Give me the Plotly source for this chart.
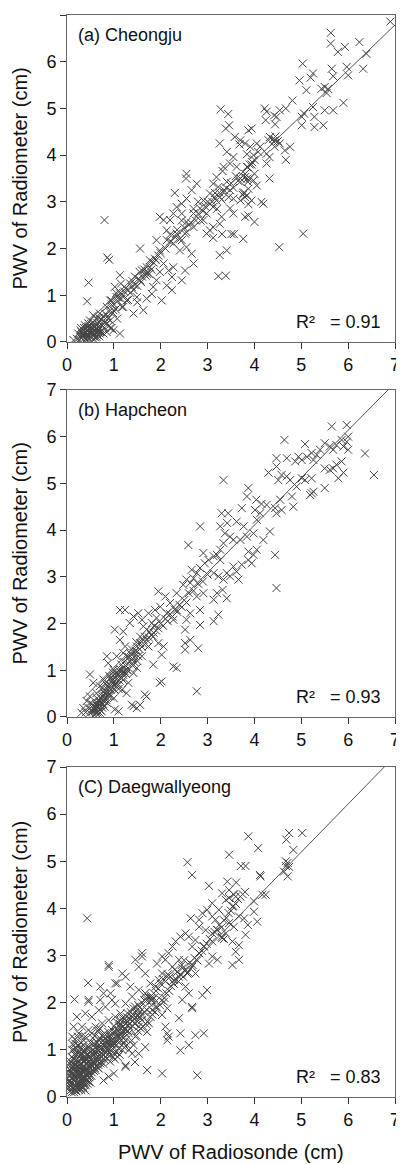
import plotly.graph_objects as go
from plotly.subplots import make_subplots

# (radiosonde PWV, radiometer PWV) pairs
cheongju = [
    (6.9, 6.86), (5.63, 6.62), (5.63, 6.39), (5.93, 6.32), (5.78, 6.21), (6.24, 6.42), (6.39, 6.17),
    (6.32, 5.85), (5.97, 5.89), (6.0, 5.71), (5.65, 5.85), (5.68, 5.69), (5.03, 5.96), (4.96, 5.6),
    (5.11, 5.39), (5.25, 5.75), (5.2, 5.66), (5.43, 5.42), (5.5, 5.46), (5.57, 5.42), (5.54, 5.33),
    (5.9, 5.12), (5.5, 4.96), (5.68, 4.96), (5.28, 4.82), (5.25, 5.03), (5.47, 4.64), (5.28, 4.6),
    (5.01, 4.82), (5.01, 4.64), (5.06, 4.89), (4.81, 5.17), (4.67, 5.0), (4.54, 4.96), (4.42, 4.85),
    (4.47, 4.82), (4.22, 5.0), (4.24, 4.75), (4.26, 4.93), (4.44, 4.66), (4.33, 4.39), (4.44, 4.32),
    (4.54, 4.25), (4.76, 4.18), (4.65, 4.10), (4.67, 3.9), (4.3, 4.32), (4.43, 4.18), (4.32, 3.96),
    (4.26, 3.82), (4.32, 3.5), (4.12, 4.18), (4.05, 4.25), (3.91, 4.18), (4.08, 4.07), (3.98, 4.0),
    (4.26, 4.03), (3.87, 4.53), (3.94, 4.57), (3.7, 4.32), (3.8, 4.25), (3.84, 4.02), (3.68, 4.23),
    (3.44, 4.88), (3.46, 4.64), (3.28, 4.98), (3.39, 4.57), (3.58, 4.39), (3.26, 4.25), (3.41, 4.07),
    (3.48, 3.82), (3.55, 3.96), (3.62, 3.75), (3.84, 3.75), (3.94, 3.8), (4.0, 3.6), (3.8, 3.53),
    (3.86, 3.43), (3.7, 3.43), (3.98, 3.46), (4.05, 3.35), (3.87, 3.28), (3.77, 3.18), (3.84, 3.14),
    (3.7, 3.03), (3.94, 3.03), (3.87, 2.95), (4.19, 2.96), (4.15, 3.0), (3.87, 2.71), (4.0, 2.57),
    (3.8, 2.68), (3.55, 3.07), (3.41, 3.43), (3.34, 3.75), (3.32, 3.66), (3.19, 3.53), (3.12, 3.39),
    (3.23, 3.32), (3.34, 3.21), (3.48, 3.25), (3.26, 3.1), (3.19, 3.03), (3.05, 2.96), (3.12, 2.89),
    (2.98, 2.75), (3.05, 3.18), (3.16, 3.19), (3.55, 2.75), (3.48, 2.86), (3.3, 2.68), (3.26, 2.53),
    (3.12, 2.46), (2.91, 3.03), (2.8, 3.0), (2.84, 2.86), (2.7, 2.75), (2.91, 2.61), (2.98, 2.32),
    (3.12, 2.23), (3.05, 2.39), (3.31, 2.31), (3.51, 2.31), (3.56, 2.31), (3.76, 2.21), (3.26, 1.86),
    (3.41, 1.96), (3.23, 1.41), (3.39, 1.42), (5.04, 2.32), (4.53, 2.03), (2.55, 3.07), (2.55, 3.6),
    (2.54, 3.5), (2.77, 3.39), (2.66, 3.25), (2.3, 3.19), (2.45, 2.96), (2.34, 2.89), (2.7, 2.46),
    (2.55, 2.57), (2.45, 2.75), (2.27, 2.75), (2.2, 2.61), (2.13, 2.39), (2.06, 2.61), (1.98, 2.68),
    (2.34, 2.32), (2.45, 2.18), (2.52, 2.32), (2.27, 2.11), (2.41, 1.96), (2.55, 2.03), (2.66, 1.89),
    (2.7, 1.68), (2.52, 1.53), (2.45, 1.32), (2.13, 2.18), (1.91, 2.18), (1.98, 1.96), (1.88, 1.78),
    (2.06, 1.68), (2.17, 1.53), (2.27, 1.6), (2.24, 1.39), (1.98, 1.5), (1.91, 1.32), (1.77, 1.6),
    (1.7, 1.46), (1.6, 1.53), (1.56, 1.32), (1.56, 2.0), (1.77, 1.75), (1.84, 1.18), (1.81, 1.03),
    (1.7, 0.93), (1.63, 0.68), (2.02, 0.89), (2.24, 1.11), (2.13, 1.21), (1.42, 1.11), (1.35, 1.25),
    (1.49, 0.96), (1.27, 0.89), (1.42, 0.61), (1.17, 0.75), (1.13, 1.04), (1.13, 1.43), (1.02, 1.18),
    (1.06, 0.96), (0.95, 0.89), (0.85, 0.75), (0.99, 0.68), (0.92, 0.46), (0.78, 0.54), (0.7, 0.46),
    (0.63, 0.36), (0.7, 0.61), (0.86, 1.81), (0.9, 1.76), (0.8, 2.61), (0.46, 1.27), (0.43, 0.87),
    (0.92, 0.89), (1.07, 0.5), (1.13, 0.18), (0.99, 0.25), (0.85, 0.21), (0.7, 0.18), (0.67, 0.25),
    (0.56, 0.29), (0.53, 0.18), (0.42, 0.25), (0.35, 0.14), (0.28, 0.11), (0.21, 0.07), (0.31, 0.21),
    (0.38, 0.36), (0.49, 0.46), (0.56, 0.57), (0.38, 0.09), (0.46, 0.07), (0.63, 0.11), (0.78, 0.18),
    (0.92, 0.29), (0.24, 0.18), (0.14, 0.04),
    (0.4, 0.2), (0.45, 0.15), (0.5, 0.3), (0.55, 0.2), (0.6, 0.25), (0.65, 0.15), (0.4, 0.3),
    (0.35, 0.25), (0.5, 0.1), (0.6, 0.1), (0.7, 0.3), (0.75, 0.35), (0.8, 0.3), (0.85, 0.4),
    (0.9, 0.35), (0.95, 0.3), (0.45, 0.4), (0.55, 0.35), (0.65, 0.4), (0.4, 0.05), (0.3, 0.3),
    (0.62, 0.22), (0.48, 0.22), (0.58, 0.05),
    (1.0, 0.8), (1.1, 0.95), (1.2, 1.0), (1.25, 1.15), (1.3, 0.9), (1.4, 1.3), (1.45, 1.4), (1.5, 1.2),
    (1.55, 1.5), (1.6, 1.4), (1.65, 1.55), (1.7, 1.6), (1.75, 1.45), (1.8, 1.55), (1.85, 1.7),
    (1.9, 1.75), (1.95, 1.85), (2.0, 1.9), (1.05, 1.05), (0.95, 0.8), (0.9, 0.65), (1.15, 1.25),
    (1.2, 0.75), (1.35, 1.05), (1.5, 0.85),
    (2.1, 2.0), (2.2, 2.15), (2.3, 2.25), (2.35, 2.4), (2.4, 2.2), (2.5, 2.45), (2.6, 2.5), (2.65, 2.55),
    (2.75, 2.6), (2.8, 2.75), (2.85, 2.6), (2.9, 2.8), (2.95, 2.9), (3.0, 3.0), (2.2, 2.3), (2.45, 2.6),
    (2.55, 2.35), (2.7, 2.85),
    (3.1, 3.0), (3.15, 3.1), (3.2, 2.85), (3.25, 3.2), (3.3, 3.05), (3.35, 3.25), (3.4, 3.3), (3.45, 3.1),
    (3.5, 3.4), (3.55, 3.3), (3.6, 3.55), (3.65, 3.45), (3.7, 3.5), (3.75, 3.55), (3.8, 3.6), (3.85, 3.75),
    (3.9, 3.8), (3.95, 3.85), (4.0, 3.9), (3.75, 3.15), (3.8, 3.1), (3.78, 3.2), (3.85, 3.5), (3.9, 3.5),
    (4.4, 4.35), (4.45, 4.4), (4.5, 4.3), (4.42, 4.28),
    (0.33, 0.12), (0.37, 0.18), (0.43, 0.12), (0.47, 0.28), (0.52, 0.24), (0.57, 0.12), (0.6, 0.32),
    (0.64, 0.2), (0.67, 0.32), (0.72, 0.22), (0.44, 0.32), (0.52, 0.38), (0.36, 0.3), (0.41, 0.16),
    (0.26, 0.05), (0.31, 0.08), (0.55, 0.42), (0.62, 0.5), (0.68, 0.52), (0.74, 0.48), (0.82, 0.6),
    (0.87, 0.55), (0.98, 0.62), (1.04, 0.7), (1.08, 0.88), (1.16, 0.92), (1.22, 1.08), (1.3, 1.12),
    (1.38, 1.18), (1.44, 1.22), (1.52, 1.35), (1.58, 1.28), (1.68, 1.42), (1.72, 1.5),
    (0.39, 0.22), (0.42, 0.08), (0.5, 0.18), (0.54, 0.3), (0.58, 0.16), (0.61, 0.28), (0.66, 0.24),
    (0.69, 0.12), (0.73, 0.38), (0.46, 0.34), (0.34, 0.18), (0.29, 0.25), (0.81, 0.42), (0.88, 0.5),
]

hapcheon = [
    (5.65, 6.22), (5.97, 6.25), (5.08, 5.84), (4.64, 5.93), (6.36, 5.64), (6.55, 5.18), (6.0, 6.0),
    (5.97, 5.89), (5.86, 5.93), (5.9, 5.79), (6.0, 5.72), (5.75, 5.82), (5.68, 5.72), (5.61, 5.79),
    (5.5, 5.86), (5.4, 5.72), (5.33, 5.61), (5.26, 5.5), (5.22, 5.65), (5.12, 5.57), (5.01, 5.5),
    (4.94, 5.57), (4.87, 5.47), (4.69, 5.54), (4.47, 5.54), (4.47, 5.36), (4.58, 5.18), (4.69, 5.15),
    (4.76, 5.07), (4.51, 5.07), (4.3, 5.23), (5.01, 5.11), (5.08, 5.07), (5.22, 5.11), (5.5, 5.32),
    (5.61, 5.29), (5.75, 5.4), (5.86, 5.47), (5.9, 5.23), (5.79, 5.11), (5.68, 5.32), (5.5, 4.9),
    (5.22, 4.79), (5.19, 4.75), (5.26, 4.82), (4.9, 4.93), (4.8, 4.72), (4.83, 4.5), (4.55, 4.65),
    (4.58, 4.43), (4.44, 4.47), (4.47, 4.36), (4.33, 3.97), (4.44, 3.47), (4.47, 2.76), (4.04, 4.65),
    (4.15, 4.56), (4.26, 4.54), (3.87, 4.9), (3.84, 4.72), (3.73, 4.47), (4.01, 4.43), (4.05, 4.22),
    (4.12, 4.36), (4.19, 3.79), (3.98, 3.93), (3.84, 3.86), (3.7, 3.79), (3.55, 3.79), (3.62, 4.18),
    (3.77, 4.08), (3.34, 5.07), (3.44, 4.36), (3.3, 4.36), (3.42, 4.15), (3.27, 4.08), (2.84, 4.08),
    (2.59, 3.68), (3.37, 3.93), (3.48, 3.86), (3.34, 3.72), (3.27, 3.58), (3.2, 3.47), (3.27, 3.36),
    (3.13, 3.44), (3.02, 3.36), (2.91, 3.51), (2.94, 3.29), (2.84, 3.19), (2.77, 3.08), (2.66, 3.15),
    (2.7, 2.97), (2.63, 2.87), (2.55, 2.94), (2.48, 2.83), (3.13, 3.08), (3.23, 3.01), (3.34, 2.94),
    (3.41, 3.08), (3.48, 3.01), (3.55, 3.22), (3.62, 3.11), (3.73, 3.26), (3.87, 3.36), (3.98, 3.47),
    (4.05, 3.58), (3.87, 3.54), (3.94, 3.29), (3.66, 2.94), (3.41, 2.54), (3.32, 2.72), (3.2, 2.65),
    (3.13, 2.51), (3.23, 2.19), (3.13, 2.05), (2.91, 2.65), (2.77, 2.58), (2.84, 2.29), (2.84, 1.97),
    (2.63, 2.22), (2.55, 2.08), (2.52, 1.87), (2.63, 1.65), (2.52, 1.58), (2.52, 1.44), (2.8, 1.47),
    (2.27, 1.08), (2.34, 1.05), (2.77, 0.55), (2.02, 0.76), (1.98, 0.73), (2.34, 2.65), (2.34, 2.29),
    (2.2, 2.44), (2.13, 2.22), (2.27, 2.08), (1.95, 2.69), (2.1, 2.58), (1.99, 2.36), (1.88, 2.29),
    (1.91, 2.12), (1.81, 2.01), (1.74, 2.22), (1.7, 1.87), (1.84, 1.72), (1.95, 1.58), (2.06, 1.51),
    (2.02, 1.33), (1.84, 1.12), (1.74, 1.51), (1.63, 1.65), (1.63, 1.94), (1.56, 1.72), (1.49, 1.51),
    (1.42, 1.37), (1.52, 1.3), (1.49, 1.05), (1.42, 0.94), (1.27, 1.01), (1.34, 1.19), (1.2, 1.37),
    (1.13, 2.29), (1.24, 2.29), (1.02, 1.87), (1.2, 1.83), (1.34, 2.01), (1.52, 2.22), (1.6, 2.08),
    (1.42, 2.15), (1.13, 1.65), (1.24, 1.51), (1.06, 1.3), (0.85, 1.3), (0.88, 1.15), (0.99, 1.01),
    (1.1, 0.94), (0.92, 0.83), (0.78, 0.8), (0.7, 0.66), (0.63, 0.51), (0.49, 0.91), (0.56, 0.73),
    (0.49, 0.44), (0.42, 0.34), (0.35, 0.19), (0.31, 0.09), (0.49, 0.09), (0.6, 0.12), (0.7, 0.09),
    (0.67, 0.23), (0.56, 0.26), (0.78, 0.34), (0.92, 0.44), (1.02, 0.16), (1.1, 0.12), (1.02, 0.58),
    (1.17, 0.58), (1.27, 0.51), (1.38, 0.26), (1.49, 0.19), (1.66, 0.48), (1.7, 0.44), (1.42, 0.23),
    (1.56, 0.26), (1.2, 0.79), (1.31, 0.73),
    (0.6, 0.2), (0.65, 0.3), (0.7, 0.35), (0.75, 0.45), (0.8, 0.5), (0.85, 0.6), (0.9, 0.7), (0.95, 0.65),
    (1.0, 0.75), (1.05, 0.8), (1.1, 0.7), (1.0, 0.6), (0.9, 0.5), (0.8, 0.4), (0.7, 0.25), (0.6, 0.15),
    (0.55, 0.25), (0.65, 0.1), (0.75, 0.2), (0.85, 0.3), (0.62, 0.28), (0.68, 0.18), (0.72, 0.4),
    (0.78, 0.55), (0.88, 0.45), (0.95, 0.85), (1.05, 0.95), (1.1, 1.0), (1.15, 0.85), (1.2, 1.05),
    (1.25, 1.1), (1.3, 1.15), (1.35, 1.2), (1.4, 1.25), (1.45, 1.3), (1.5, 1.4), (1.55, 1.45),
    (1.6, 1.5), (1.65, 1.55), (1.7, 1.65), (1.75, 1.7), (1.8, 1.75), (1.85, 1.8), (1.9, 1.85),
    (1.95, 1.9), (2.0, 2.0), (2.05, 1.95), (2.1, 2.1), (2.15, 2.05), (2.2, 2.2), (2.25, 2.15),
    (2.3, 2.3), (2.35, 2.25), (2.4, 2.4), (2.45, 2.35), (2.5, 2.5), (2.55, 2.45), (2.6, 2.65),
    (2.7, 2.7), (2.8, 2.85), (2.9, 2.9), (3.0, 3.05), (1.3, 1.0), (1.4, 1.1), (1.5, 1.2), (1.6, 1.3),
    (1.2, 0.9), (1.1, 0.6), (1.0, 0.4), (0.58, 0.05), (0.52, 0.15), (0.45, 0.2), (0.4, 0.1),
    (0.55, 0.12), (0.62, 0.08), (0.66, 0.22), (0.72, 0.3), (0.74, 0.12), (0.8, 0.22), (0.83, 0.42),
    (0.87, 0.52), (0.93, 0.58), (0.97, 0.72), (1.03, 0.68), (1.07, 0.88), (1.12, 0.78), (1.18, 0.95),
    (1.23, 0.98), (0.64, 0.4), (0.76, 0.62), (0.82, 0.72), (0.9, 0.88), (0.98, 0.95), (0.5, 0.3),
    (1.28, 1.3), (1.36, 1.35), (1.46, 1.42), (1.56, 1.58), (1.66, 1.72), (1.76, 1.82), (1.86, 1.95),
    (0.57, 0.18), (0.63, 0.24), (0.69, 0.32), (0.71, 0.15), (0.77, 0.28), (0.79, 0.46), (0.84, 0.36),
    (0.86, 0.66), (0.91, 0.62), (0.94, 0.78), (0.99, 0.88), (1.04, 0.72), (1.08, 0.9), (1.14, 1.02),
    (1.16, 1.12), (1.22, 1.18), (1.26, 0.92), (1.33, 1.28), (1.38, 1.45), (1.43, 1.18), (1.48, 1.6),
]

daegwallyeong = [
    (4.74, 5.6), (5.02, 5.6), (4.68, 5.46), (3.87, 5.53), (4.08, 5.28), (3.46, 5.14), (2.57, 4.98),
    (2.67, 4.71), (3.03, 4.48), (3.42, 4.57), (3.61, 4.55), (3.71, 4.9), (3.81, 4.9), (4.13, 4.68),
    (4.12, 4.71), (4.67, 5.0), (4.71, 4.97), (4.67, 4.9), (4.71, 4.68), (4.63, 4.78), (4.74, 4.88),
    (4.83, 5.24), (4.17, 4.29), (4.24, 4.29), (3.99, 4.15), (3.99, 3.93), (4.06, 3.72), (3.86, 3.65),
    (3.81, 3.44), (3.67, 3.22), (3.67, 2.91), (3.53, 3.3), (3.6, 3.08), (3.46, 4.22), (3.53, 4.04),
    (3.56, 4.29), (3.46, 4.39), (3.31, 4.32), (3.39, 4.18), (3.1, 4.11), (3.24, 3.97), (3.17, 3.76),
    (3.1, 3.83), (2.99, 3.97), (2.89, 3.9), (2.82, 3.76), (2.64, 3.79), (2.82, 3.61), (2.96, 3.54),
    (3.1, 3.47), (3.21, 3.54), (3.31, 3.37), (3.39, 3.47), (3.46, 3.69), (3.56, 3.61), (3.67, 3.83),
    (3.78, 3.79), (3.53, 2.8), (3.21, 2.91), (3.1, 2.98), (3.03, 2.83), (2.92, 3.19), (2.82, 3.05),
    (2.74, 3.33), (2.67, 3.19), (2.6, 3.4), (2.53, 3.47), (2.42, 3.4), (2.32, 3.3), (2.25, 3.19),
    (2.17, 3.05), (2.1, 2.91), (2.03, 2.98), (1.92, 2.83), (2.25, 2.76), (2.39, 2.91), (2.46, 2.73),
    (2.57, 2.62), (2.67, 2.76), (2.74, 2.62), (2.39, 2.55), (2.28, 2.48), (2.14, 2.55), (2.03, 2.62),
    (1.96, 2.48), (1.89, 2.34), (1.85, 2.2), (2.53, 2.34), (2.6, 2.2), (2.67, 1.91), (2.67, 1.88),
    (2.89, 2.16), (2.99, 2.27), (2.46, 2.06), (2.07, 2.02), (2.14, 1.88), (2.03, 1.74), (2.14, 1.35),
    (2.1, 1.49), (2.14, 1.2), (2.17, 1.28), (2.39, 1.67), (2.42, 1.35), (2.42, 0.99), (2.6, 1.1),
    (2.74, 1.31), (2.92, 1.35), (2.78, 0.46), (2.03, 0.5), (1.71, 0.57), (1.67, 1.06), (1.71, 1.38),
    (1.53, 0.92), (1.39, 0.92), (1.25, 0.67), (1.25, 0.64), (1.45, 0.74), (1.0, 0.5), (0.89, 0.43),
    (0.78, 0.35), (0.43, 3.79), (0.45, 2.42), (0.46, 2.02), (0.46, 2.06), (0.16, 2.07), (0.89, 2.8),
    (0.89, 2.76), (0.71, 2.06), (0.71, 2.34), (0.78, 2.2), (0.93, 2.2), (1.03, 2.41), (1.07, 2.41),
    (0.96, 2.06), (1.18, 2.62), (1.25, 2.55), (1.35, 2.34), (1.46, 2.91), (1.6, 2.98), (1.6, 3.05),
    (1.53, 2.76), (1.67, 2.62), (1.78, 2.41), (1.78, 2.13), (1.82, 2.06), (1.67, 2.2), (1.53, 2.27),
    (1.39, 2.13), (1.25, 1.98), (1.14, 1.77), (1.03, 1.7), (0.89, 1.63), (0.75, 1.56), (0.61, 1.49),
    (0.46, 1.42), (0.32, 1.49), (0.25, 1.35), (0.14, 1.49), (0.11, 1.28), (0.21, 1.7), (0.39, 1.77),
    (0.53, 1.7), (0.68, 1.84), (0.82, 1.91), (1.03, 1.98), (1.39, 1.7), (1.53, 1.77), (1.6, 1.63),
    (1.53, 1.49), (1.75, 1.56), (1.82, 1.84), (1.89, 1.91), (1.32, 1.35), (1.25, 1.2), (1.1, 1.28),
    (0.96, 1.13), (0.82, 1.06), (0.68, 0.99), (0.53, 0.92), (0.39, 0.85), (0.25, 0.78), (0.14, 0.64),
    (0.07, 0.5), (0.05, 0.35), (0.18, 0.25), (0.29, 0.18), (0.39, 0.14), (0.25, 0.35), (0.36, 0.43),
    (0.46, 0.5), (0.61, 0.57), (0.71, 0.71), (0.86, 0.82), (1.0, 0.92), (1.1, 1.03), (1.21, 1.13),
    (1.35, 1.17), (1.46, 1.28), (0.14, 0.35), (0.11, 0.21), (0.32, 0.57), (0.46, 0.74), (0.57, 0.74),
    (0.25, 0.92), (0.36, 0.99), (0.46, 1.06), (0.57, 1.13), (0.68, 1.2), (0.78, 1.28), (0.18, 1.13),
    (0.11, 0.99), (0.53, 1.35), (0.68, 1.42), (0.39, 1.28),
    (0.2, 0.5), (0.25, 0.55), (0.3, 0.6), (0.35, 0.65), (0.4, 0.7), (0.2, 0.3), (0.3, 0.4), (0.15, 0.45),
    (0.25, 0.25), (0.35, 0.3), (0.4, 0.5), (0.45, 0.55), (0.5, 0.6), (0.55, 0.65), (0.6, 0.8),
    (0.65, 0.85), (0.7, 0.9), (0.75, 1.0), (0.8, 0.95), (0.85, 1.05), (0.9, 1.1), (0.95, 1.2),
    (1.0, 1.25), (1.05, 1.3), (1.1, 1.4), (1.15, 1.45), (1.2, 1.5), (1.25, 1.55), (1.3, 1.6),
    (1.35, 1.65), (1.4, 1.75), (1.45, 1.8), (1.5, 1.85), (1.55, 1.9), (1.6, 2.0), (1.65, 2.05),
    (1.7, 2.1), (1.75, 2.0), (1.8, 2.15), (1.85, 2.1), (1.9, 2.25), (1.95, 2.3), (2.0, 2.4),
    (2.05, 2.5), (2.1, 2.45), (2.15, 2.6), (2.2, 2.55), (2.3, 2.7), (2.35, 2.65), (2.45, 2.8),
    (2.5, 2.9), (0.1, 0.6), (0.15, 0.8), (0.2, 0.9), (0.3, 1.0), (0.35, 1.1), (0.45, 0.9),
    (0.5, 0.85), (0.55, 1.0), (0.6, 1.05), (0.65, 1.15), (0.7, 1.25), (0.75, 1.3), (0.8, 1.35),
    (0.85, 1.2), (0.9, 1.3), (0.95, 1.0), (1.0, 1.05), (1.05, 0.95), (1.1, 1.15), (1.15, 1.2),
    (1.2, 1.25), (1.25, 1.35), (1.3, 1.4), (1.35, 1.45), (1.4, 1.5), (1.45, 1.55), (1.5, 1.6),
    (1.55, 1.7), (1.6, 1.75), (1.65, 1.8), (1.7, 1.85), (1.75, 2.1), (1.8, 2.05),
    (0.1, 0.2), (0.12, 0.4), (0.18, 0.15), (0.22, 0.65), (0.28, 0.45), (0.32, 0.8), (0.38, 0.55),
    (0.42, 0.35), (0.48, 0.75), (0.52, 0.45), (0.58, 0.55), (0.62, 0.65), (0.68, 0.6), (0.72, 0.75),
    (0.78, 0.7), (0.82, 0.85), (0.88, 0.9), (0.92, 0.75), (0.98, 0.85), (1.02, 0.8), (1.08, 0.85),
    (1.12, 0.9), (1.18, 1.0), (1.22, 1.05), (1.28, 1.1), (1.32, 1.0), (1.38, 1.2), (1.42, 1.1),
    (1.48, 1.3), (1.52, 1.4), (1.58, 1.45), (1.62, 1.5), (1.68, 1.55), (1.72, 1.6), (1.78, 1.7),
    (1.82, 1.75), (1.88, 1.8), (1.92, 1.9), (1.98, 1.95), (2.02, 2.05), (2.08, 2.1), (2.12, 2.2),
    (2.18, 2.25), (2.22, 2.35), (2.28, 2.4), (2.32, 2.5), (2.38, 2.45), (2.42, 2.6), (2.48, 2.55),
    (2.52, 2.7), (2.58, 2.65), (2.62, 2.85), (2.68, 2.8), (2.72, 2.95), (2.78, 2.9), (2.82, 3.05),
    (2.88, 3.1), (2.92, 3.2), (2.98, 3.25), (3.05, 3.35), (3.1, 3.3), (3.15, 3.5), (3.2, 3.55),
    (3.25, 3.65), (3.3, 3.6), (3.35, 3.75), (3.4, 3.8), (3.45, 3.9), (3.5, 3.95), (3.55, 4.05),
    (3.6, 4.1), (3.65, 4.2), (3.7, 4.25), (3.75, 4.3), (3.8, 4.35), (3.55, 4.3), (3.6, 4.25),
    (3.35, 3.35), (3.3, 3.4), (1.7, 2.05), (1.75, 2.1), (1.8, 2.1),
    (0.05, 0.2), (0.08, 0.3), (0.1, 0.4), (0.12, 0.5), (0.15, 0.25), (0.18, 0.35), (0.2, 0.45),
    (0.22, 0.2), (0.25, 0.4), (0.28, 0.3), (0.3, 0.5), (0.32, 0.2), (0.35, 0.4), (0.38, 0.6),
    (0.4, 0.25), (0.42, 0.45), (0.45, 0.35), (0.48, 0.5), (0.5, 0.3), (0.15, 0.6), (0.2, 0.7),
    (0.25, 0.75), (0.3, 0.7), (0.35, 0.85), (0.4, 0.8), (0.45, 0.65), (0.55, 0.75), (0.6, 0.7),
    (0.65, 0.75), (0.1, 0.1), (0.15, 0.1), (0.2, 0.12), (0.25, 0.15), (0.3, 0.15), (0.35, 0.2),
    (0.12, 0.7), (0.08, 0.55), (0.05, 0.45), (0.16, 0.9), (0.1, 0.85), (0.06, 0.7), (0.18, 1.05),
    (0.14, 1.0), (0.24, 1.1), (0.3, 1.15), (0.36, 1.2), (0.4, 1.0), (0.45, 1.05), (0.5, 1.15),
    (0.55, 1.25), (0.6, 1.3), (0.65, 1.4), (0.7, 1.45),
    (0.07, 0.25), (0.09, 0.62), (0.13, 0.3), (0.17, 0.55), (0.19, 0.78), (0.23, 0.28), (0.27, 0.62),
    (0.29, 0.88), (0.33, 0.35), (0.34, 0.52), (0.37, 0.75), (0.41, 0.6), (0.43, 0.9), (0.47, 0.42),
    (0.51, 0.68), (0.53, 0.52), (0.57, 0.9), (0.59, 0.62), (0.63, 0.95), (0.67, 0.68), (0.69, 1.05),
    (0.73, 0.85), (0.77, 1.12), (0.81, 0.78), (0.83, 1.15), (0.87, 0.98), (0.91, 1.22), (0.93, 0.9),
    (0.97, 1.35), (1.01, 1.15), (1.06, 1.42), (1.09, 1.2), (1.13, 1.55), (1.16, 1.32), (1.2, 1.62),
    (1.24, 1.42), (1.27, 1.7), (1.31, 1.52), (1.36, 1.8), (1.41, 1.62), (1.45, 1.92), (1.5, 1.72),
    (0.06, 0.12), (0.13, 0.18), (0.21, 0.38), (0.26, 0.48), (0.31, 0.25), (0.39, 0.38), (0.44, 0.28),
    (0.04, 0.32), (0.06, 0.58), (0.09, 0.15), (0.11, 0.48), (0.13, 0.82), (0.16, 0.38), (0.17, 0.68),
    (0.19, 0.22), (0.21, 0.55), (0.22, 0.95), (0.24, 0.45), (0.26, 0.68), (0.27, 0.2), (0.29, 0.52),
    (0.31, 0.92), (0.33, 0.62), (0.34, 0.42), (0.36, 0.78), (0.37, 0.25), (0.39, 0.95), (0.41, 0.48),
    (0.43, 0.72), (0.44, 0.58), (0.46, 0.85), (0.47, 0.32), (0.49, 0.62), (0.51, 0.95), (0.52, 0.78),
    (0.54, 0.58), (0.56, 0.88), (0.58, 0.7), (0.59, 1.12), (0.61, 0.92), (0.63, 0.78), (0.64, 1.02),
    (0.66, 0.62), (0.68, 1.1), (0.7, 0.82), (0.72, 1.02), (0.74, 0.92), (0.76, 1.18), (0.78, 0.88),
    (0.8, 1.08), (0.82, 1.25), (0.84, 0.95), (0.86, 1.15), (0.88, 1.38), (0.9, 1.02), (0.92, 1.28),
    (0.94, 1.12), (0.96, 1.42), (0.98, 1.22), (1.0, 1.5), (1.02, 1.12), (1.04, 1.38), (1.07, 1.58),
    (1.09, 1.3), (1.11, 1.5), (1.14, 1.62), (1.17, 1.38), (1.19, 1.68), (1.22, 1.45), (1.26, 1.62),
    (1.29, 1.78), (1.33, 1.55), (1.37, 1.72), (1.42, 1.88), (1.47, 1.68), (1.52, 1.95), (1.57, 1.82),
    (0.08, 0.75), (0.12, 1.12), (0.17, 1.22), (0.2, 1.02), (0.23, 1.28), (0.28, 1.05), (0.32, 1.3),
]

# fitted line end points for each station
fit_x = [[0.2, 7.0], [0.35, 6.85], [0.05, 6.77]]
fit_y = [[0.19, 6.79], [0.4, 7.0], [0.15, 7.0]]

panel_labels = ["(a) Cheongju", "(b) Hapcheon", "(C) Daegwallyeong"]
r2_labels = ["0.91", "0.93", "0.83"]

stations = [cheongju, hapcheon, daegwallyeong]

fig = make_subplots(rows=3, cols=1)

for i, pts in enumerate(stations):
    fig.add_trace(go.Scatter(
        x=[p[0] for p in pts],
        y=[p[1] for p in pts],
        mode="markers",
        marker=dict(symbol="x-thin-open", size=8, color="#444444",
                    line=dict(width=1, color="#444444")),
        showlegend=False,
    ), row=i + 1, col=1)
    fig.add_trace(go.Scatter(
        x=fit_x[i], y=fit_y[i], mode="lines",
        line=dict(color="#555555", width=1),
        showlegend=False,
    ), row=i + 1, col=1)

font = "Liberation Sans, Arial, sans-serif"

# the page body adds 8px on the left and top, so the figure is 8px smaller
W, H = 396, 1156
xdomain = [0.149, 0.9773]
ydomains = [[0.7111, 0.9939], [0.3867, 0.6696], [0.0580, 0.3434]]
for i in range(3):
    fig.update_xaxes(
        row=i + 1, col=1, range=[0, 7], dtick=1, domain=xdomain,
        ticks="outside", ticklen=6, tickcolor="#333333", automargin=False,
        showline=True, linecolor="#666666", mirror=True, showgrid=False, zeroline=False,
        tickfont=dict(size=18, color="#111111", family=font),
    )
    fig.update_yaxes(
        row=i + 1, col=1, range=[0, 7], dtick=1, domain=ydomains[i],
        ticks="outside", ticklen=6, tickcolor="#333333", automargin=False,
        showline=True, linecolor="#666666", mirror=True, showgrid=False, zeroline=False,
        tickfont=dict(size=18, color="#111111", family=font),
    )
    xr = "x" if i == 0 else "x%d" % (i + 1)
    yr = "y" if i == 0 else "y%d" % (i + 1)
    fig.add_annotation(
        text=panel_labels[i], xref=xr, yref=yr, x=0.2, y=6.58,
        xanchor="left", yanchor="middle", showarrow=False,
        font=dict(size=18, color="#111111", family=font),
    )
    fig.add_annotation(
        text="R²\u00a0\u00a0\u00a0= " + r2_labels[i], xref=xr, yref=yr, x=6.75, y=0.42,
        xanchor="right", yanchor="middle", showarrow=False,
        font=dict(size=18, color="#111111", family=font),
    )
    # y axis title, placed by hand
    fig.add_annotation(
        text="PWV of Radiometer (cm)", xref="paper", yref="paper",
        x=12 / W, y=sum(ydomains[i]) / 2, textangle=-90,
        xanchor="center", yanchor="middle", showarrow=False,
        font=dict(size=20, color="#111111", family=font),
    )

fig.add_annotation(
    text="PWV of Radiosonde (cm)", xref="paper", yref="paper",
    x=sum(xdomain) / 2, y=1 - 1144 / H,
    xanchor="center", yanchor="middle", showarrow=False,
    font=dict(size=20, color="#111111", family=font),
)

fig.update_layout(
    width=W, height=H,
    margin=dict(l=0, r=0, t=0, b=0),
    paper_bgcolor="white", plot_bgcolor="white",
    font=dict(family=font),
)

fig.write_html("out.html")
